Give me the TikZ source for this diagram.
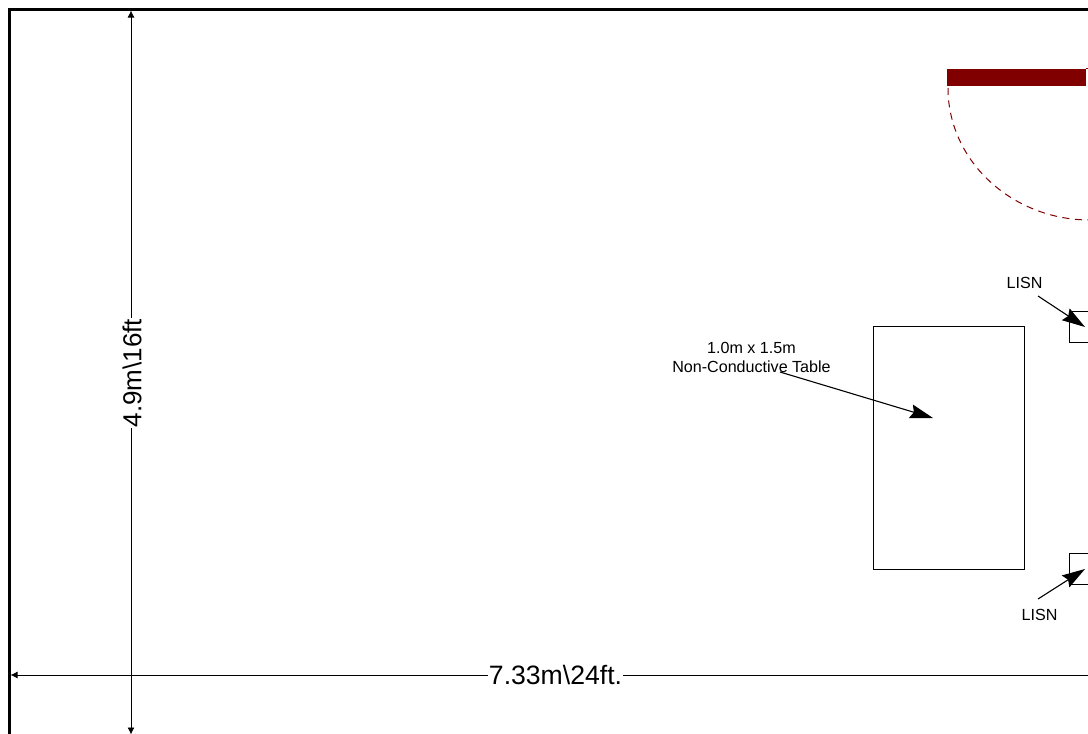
\documentclass[tikz,border=0pt]{standalone}
\usepackage{fontspec}
\setmainfont{Liberation Sans}
\usetikzlibrary{arrows.meta}
\definecolor{doorred}{HTML}{800000}
\tikzset{
  x=1pt,y=-1pt,
  frameline/.style={draw=black,line width=3pt},
  plainbox/.style={draw=black,line width=1pt,fill=white,line join=miter},
  dimline/.style={draw=black,line width=0.9pt,{Latex[length=7pt,width=7pt]}-{Latex[length=7pt,width=7pt]}},
  callout/.style={draw=black,line width=1.1pt,-{Stealth[length=23pt,width=14pt,inset=3pt]}},
  smalllabel/.style={font=\fontsize{16.1}{18}\selectfont,inner sep=0pt,align=center},
  dimlabel/.style={inner sep=1pt,fill=white},
}
\begin{document}
\begin{tikzpicture}
\useasboundingbox (0,0) rectangle (1088,734);
\clip (0,0) rectangle (1088,734);
\fill[white] (0,0) rectangle (1088,734);
% room walls
\draw[frameline] (9.8,740) -- (9.8,9.3) -- (1095,9.3);
% door
\node[draw=none,fill=doorred,minimum width=138.5pt,minimum height=17pt,inner sep=0pt,anchor=north west] (door) at (947,68.5) {};
\draw[doorred,line width=0.6pt] (door.north east) -- ++(4,0);
\draw[doorred,line width=1pt,dash pattern=on 7pt off 5.5pt] (948,88) .. controls (948,161) and (1012,220) .. (1090,220);
% table and LISNs
\node[plainbox,minimum width=151pt,minimum height=243pt,inner sep=0pt,anchor=north west] (tablebox) at (872.7,326) {};
\node[plainbox,minimum width=40pt,minimum height=31pt,inner sep=0pt,anchor=north west] (lisnA) at (1069,311) {};
\node[plainbox,minimum width=40pt,minimum height=31pt,inner sep=0pt,anchor=north west] (lisnB) at (1069,553) {};
% labels
\node[smalllabel] (tablelabel) at (751.5,357) {1.0m x 1.5m\\[1pt]Non-Conductive Table};
\node[smalllabel] (lisnAlabel) at (1024.5,282.5) {LISN};
\node[smalllabel] (lisnBlabel) at (1039.5,614.5) {LISN};
% dimensions
\coordinate (dimtop) at (131,10.5);
\coordinate (dimbot) at (131,734.5);
\coordinate (dimleft) at (10.5,675);
\coordinate (dimright) at (1110,675);
\draw[dimline] (dimtop) -- (dimbot);
\draw[dimline] (dimleft) -- (dimright);
\node[dimlabel,rotate=90,font=\fontsize{26}{28}\selectfont] (hlabel) at (132,373) {4.9m\textbackslash 16ft};
\node[dimlabel,font=\fontsize{26.6}{28}\selectfont] (wlabel) at (555.5,675) {7.33m\textbackslash 24ft.};
% callouts
\coordinate (tabletail) at (780,372);
\coordinate (tabletip) at (933,418);
\coordinate (lisnAtail) at (1038,296);
\coordinate (lisnAtip) at (1085,327);
\coordinate (lisnBtail) at (1038,599);
\coordinate (lisnBtip) at (1085,569);
\draw[callout] (tabletail) -- (tabletip);
\draw[callout] (lisnAtail) -- (lisnAtip);
\draw[callout] (lisnBtail) -- (lisnBtip);
\end{tikzpicture}
\end{document}
